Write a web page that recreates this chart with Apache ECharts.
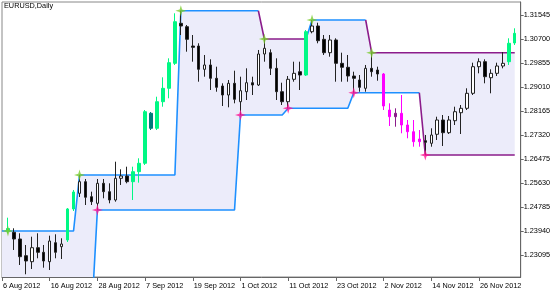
<!DOCTYPE html>
<html><head><meta charset="utf-8">
<script src="https://cdn.jsdelivr.net/npm/echarts@6/dist/echarts.min.js"></script>
<style>html,body{margin:0;padding:0;background:#fff}#c{width:560px;height:294px}</style>
</head><body><div id="c"></div>
<script>
// ---- categories: trading days from 6 Aug 2012 (one extra empty slot at the right margin)
const MONTHS = ['Jan','Feb','Mar','Apr','May','Jun','Jul','Aug','Sep','Oct','Nov','Dec'];
const categories = (function(){
  const out = []; const d = new Date(Date.UTC(2012, 7, 6));
  while (out.length < 88) {
    const wd = d.getUTCDay();
    if (wd !== 0 && wd !== 6) out.push(d.getUTCDate() + ' ' + MONTHS[d.getUTCMonth()] + ' ' + d.getUTCFullYear());
    d.setUTCDate(d.getUTCDate() + 1);
  }
  return out;
})();

const open = [null,1.23940,1.23894,1.23658,1.23070,1.22859,1.23352,1.23190,1.22859,1.23528,1.23387,
1.23623,1.24715,1.25267,1.25676,1.25148,1.24915,1.25619,1.25324,1.25031,1.25795,
1.25876,1.25676,1.26028,1.26324,1.28084,1.27556,1.28492,1.28964,1.29844,1.31253,
1.31133,1.30453,1.30453,1.29633,1.29785,1.29316,1.29045,1.28728,1.29140,1.28492,
1.28844,1.29161,1.29080,1.30172,1.30218,1.29668,1.28844,1.28492,1.29281,1.29549,
1.29432,1.30957,1.31158,1.30689,1.30218,1.30665,1.29844,1.29704,1.29397,1.29256,
1.28964,1.29668,1.29608,1.29468,1.28200,1.27964,1.28084,1.27672,1.27436,1.27179,
1.27119,1.27028,1.27345,1.27848,1.27401,1.27823,1.28105,1.28260,1.28788,1.29725,
1.29901,1.29337,1.29492,1.29749,1.29901,1.30559];
const high = [null,1.24408,1.24035,1.23859,1.23447,1.23739,1.23859,1.23447,1.23775,1.23824,1.23683,
1.24750,1.25384,1.25912,1.25771,1.25324,1.25771,1.25771,1.25619,1.26380,1.26112,
1.26204,1.26204,1.26500,1.28200,1.28130,1.28668,1.29351,1.30020,1.31605,1.31696,
1.31193,1.30841,1.30549,1.30137,1.29985,1.29725,1.29140,1.29256,1.29584,1.29373,
1.29668,1.29373,1.30313,1.30700,1.30337,1.30020,1.29161,1.29397,1.29901,1.29901,
1.31017,1.31369,1.31274,1.30841,1.30841,1.30725,1.30218,1.30137,1.29549,1.29432,
1.29785,1.30218,1.29725,1.29503,1.28436,1.28260,1.28728,1.27848,1.27848,1.27496,
1.27320,1.27556,1.27964,1.28024,1.27989,1.28316,1.28376,1.28964,1.29866,1.30020,
1.29985,1.29633,1.29866,1.30242,1.30725,1.31077];
const low = [null,1.23859,1.23271,1.22743,1.22416,1.22602,1.22979,1.22648,1.22567,1.22979,1.22954,
1.23553,1.24644,1.25137,1.24855,1.24855,1.24679,1.25091,1.24915,1.24972,1.25560,
1.25619,1.25031,1.25641,1.26264,1.27496,1.27496,1.28316,1.28612,1.29785,1.30841,
1.30253,1.29901,1.29197,1.29373,1.28904,1.28844,1.28341,1.28295,1.28436,1.28024,
1.28552,1.28728,1.29045,1.29901,1.29432,1.28552,1.28376,1.28260,1.29197,1.28904,
1.29397,1.30901,1.30549,1.30137,1.30077,1.29197,1.29197,1.29197,1.28809,1.28844,
1.28844,1.29373,1.29232,1.28200,1.27637,1.27612,1.27380,1.27204,1.26908,1.26908,
1.26616,1.26908,1.27144,1.26933,1.27355,1.27672,1.27355,1.28200,1.28728,1.29492,
1.29140,1.28788,1.29397,1.29668,1.29785,1.30489];
const close = [null,1.24028,1.23658,1.23035,1.22884,1.23352,1.23190,1.22884,1.23588,1.23190,1.23482,
1.24715,1.25313,1.25676,1.25127,1.24972,1.25619,1.25324,1.25031,1.25795,1.25876,
1.25676,1.26028,1.26324,1.28140,1.27556,1.28492,1.28964,1.29866,1.31309,1.31158,
1.30689,1.30408,1.29633,1.29785,1.29316,1.28999,1.28728,1.29140,1.28577,1.28880,
1.29161,1.29080,1.30172,1.30373,1.29668,1.28844,1.28492,1.29281,1.29492,1.29432,
1.30957,1.31158,1.30640,1.30218,1.30665,1.29844,1.29704,1.29397,1.29316,1.28999,
1.29668,1.29549,1.29468,1.28341,1.27964,1.28084,1.27672,1.27436,1.27084,1.27084,
1.27063,1.27320,1.27848,1.27401,1.27848,1.28140,1.28260,1.28788,1.29725,1.29901,
1.29373,1.29492,1.29749,1.29844,1.30549,1.30901];

// channel levels per bar
const upper = [1.23940,1.23940,1.23940,1.23940,1.23940,1.23940,1.23940,1.23940,1.23940,1.23940,1.23940,1.23940,1.23940,
1.25912,1.25912,1.25912,1.25912,1.25912,1.25912,1.25912,1.25912,1.25912,1.25912,1.25912,1.25912,1.25912,1.25912,1.25912,1.25912,1.25912,
1.31696,1.31696,1.31696,1.31696,1.31696,1.31696,1.31696,1.31696,1.31696,1.31696,1.31696,1.31696,1.31696,1.31696,
1.30700,1.30700,1.30700,1.30700,1.30700,1.30700,1.30700,1.30700,
1.31369,1.31369,1.31369,1.31369,1.31369,1.31369,1.31369,1.31369,1.31369,1.31369,
1.30218,1.30218,1.30218,1.30218,1.30218,1.30218,1.30218,1.30218,1.30218,1.30218,1.30218,1.30218,1.30218,
1.30218,1.30218,1.30218,1.30218,1.30218,1.30218,1.30218,1.30218,1.30218,1.30218,1.30218,1.30218];
const lower = [1.2084,1.2084,1.2084,1.2084,1.2084,1.2084,1.2084,1.2084,1.2084,1.2084,1.2084,1.2084,1.2084,1.2084,1.2084,1.2084,
1.24679,1.24679,1.24679,1.24679,1.24679,1.24679,1.24679,1.24679,1.24679,1.24679,1.24679,1.24679,
1.24679,1.24679,1.24679,1.24679,1.24679,1.24679,1.24679,1.24679,1.24679,1.24679,1.24679,1.24679,
1.28024,1.28024,1.28024,1.28024,1.28024,1.28024,1.28024,1.28024,
1.28260,1.28260,1.28260,1.28260,1.28260,1.28260,1.28260,1.28260,1.28260,1.28260,1.28260,
1.28809,1.28809,1.28809,1.28809,1.28809,1.28809,1.28809,1.28809,1.28809,1.28809,1.28809,1.28809,
1.26616,1.26616,1.26616,1.26616,1.26616,1.26616,1.26616,1.26616,1.26616,1.26616,1.26616,1.26616,1.26616,1.26616,1.26616,1.26616];

const highStarIdx = [1,13,30,44,52,62];
const lowStarIdx = [16,40,48,59,71];

const yTicks = [1.23095,1.23940,1.24785,1.25630,1.26475,1.27320,1.28165,1.29010,1.29855,1.30700,1.31545];

// ---- derived
const C_BLUE = '#1E90FF', C_PURPLE = '#8B1C8B';
function splitByDir(v){
  const a = v.map(()=>null), b = v.map(()=>null); let st = 'up';
  for (let i=0;i<v.length-1;i++){
    if (v[i+1] > v[i]) st='up'; else if (v[i+1] < v[i]) st='dn';
    const t = st==='up'?a:b; t[i]=v[i]; t[i+1]=v[i+1];
  }
  return [a,b];
}
const [upA, upB] = splitByDir(upper);
const [loA, loB] = splitByDir(lower);
const range = upper.map((u,i)=>+(u-lower[i]).toFixed(5));

// classify bars: 0 normal, 1 close above upper channel, 2 close below lower channel
const cls = open.map((o,i)=> o===null ? -1 : (close[i] > upper[i] ? 1 : (close[i] < lower[i] ? 2 : 0)));
const EMPTY = ['-','-','-','-'];
const candleData = k => open.map((o,i)=> cls[i]===k ? [o, close[i], low[i], high[i]] : EMPTY);
const candleSeries = (k, style) => ({type:'candlestick', data:candleData(k), barWidth:3, z:4, silent:true,
  itemStyle:Object.assign({borderWidth:1}, style)});

const STAR = 'path://M0,-10 L2.2,-2.2 L10,0 L2.2,2.2 L0,10 L-2.2,2.2 L-10,0 L-2.2,-2.2 Z';
const FONT = '"Liberation Sans", Arial, sans-serif';
const lineS = (data, color) => ({type:'line', data, symbol:'none', connectNulls:false, silent:true, z:3,
  lineStyle:{color, width:1.6}});

const chart = echarts.init(document.getElementById('c'), null, {renderer:'canvas'});
chart.setOption({
  animation:false, backgroundColor:'#fff',
  title:{text:'EURUSD,Daily', left:4, top:2, padding:0,
    textStyle:{fontSize:7.3, fontWeight:'normal', color:'#000', fontFamily:FONT}},
  grid:{left:1.5, right:39.3, top:2, bottom:17, show:true, borderColor:'#888', borderWidth:1},
  xAxis:{type:'category', data:categories, boundaryGap:false,
    axisLine:{show:true, lineStyle:{color:'#666'}},
    axisTick:{show:true, interval:7, length:4, lineStyle:{color:'#666'}},
    axisLabel:{interval:7, align:'left', fontSize:7.3, color:'#000', margin:5, padding:[0,0,0,1], fontFamily:FONT},
    splitLine:{show:false}},
  yAxis:{type:'value', position:'right', min:1.22320, max:1.32003,
    axisLine:{show:true, lineStyle:{color:'#666'}},
    axisTick:{show:true, length:3, customValues:yTicks, lineStyle:{color:'#666'}},
    axisLabel:{customValues:yTicks, formatter:v=>v.toFixed(5), fontSize:7.3, color:'#000', margin:3, fontFamily:FONT},
    splitLine:{show:false}},
  series:[
    {type:'line', data:lower, stack:'ch', symbol:'none', silent:true, z:1, lineStyle:{width:0, opacity:0}},
    {type:'line', data:range, stack:'ch', symbol:'none', silent:true, z:1, lineStyle:{width:0, opacity:0},
      areaStyle:{color:'#ECECFA', opacity:1}},
    lineS(upA, C_BLUE), lineS(upB, C_PURPLE), lineS(loA, C_BLUE), lineS(loB, C_PURPLE),
    candleSeries(0, {color:'#ffffff', color0:'#000000', borderColor:'#222222', borderColor0:'#222222'}),
    candleSeries(1, {color:'#00F884', color0:'#007B7B', borderColor:'#00F884', borderColor0:'#007B7B'}),
    candleSeries(2, {color:'#8B1C8B', color0:'#FF00FF', borderColor:'#8B1C8B', borderColor0:'#FF00FF'}),
    {type:'scatter', data:highStarIdx.map(i=>[i, upper[i]]), symbol:STAR, symbolSize:11, z:5, silent:true,
      itemStyle:{color:'#7ACC2E'}},
    {type:'scatter', data:lowStarIdx.map(i=>[i, lower[i]]), symbol:STAR, symbolSize:11, z:5, silent:true,
      itemStyle:{color:'#FF1493'}}
  ]
});
</script></body></html>
